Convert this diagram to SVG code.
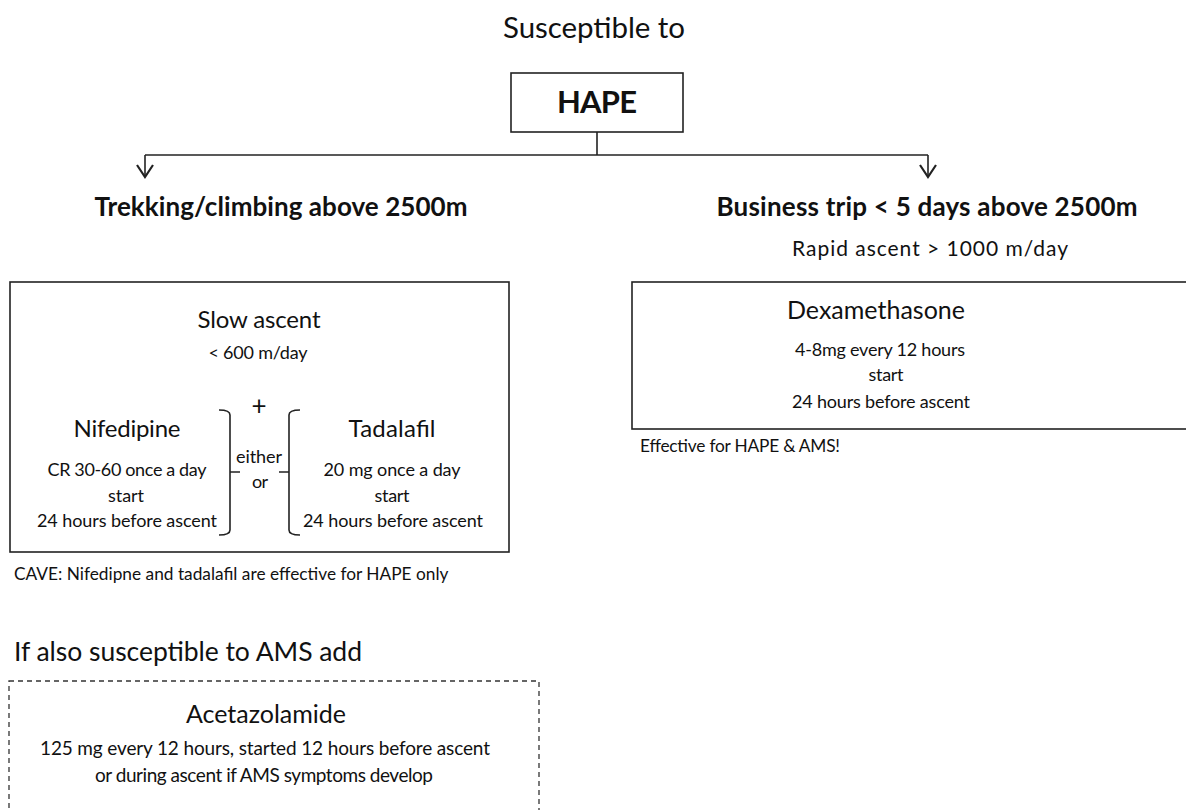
<svg xmlns="http://www.w3.org/2000/svg" width="1186" height="810" viewBox="0 0 1186 810">
<defs>
<style>
text{font-family:Lato,"Open Sans","Liberation Sans",sans-serif;fill:#111;text-anchor:middle}
.b{font-weight:bold}
.l{text-anchor:start}
.box{fill:#fff;stroke:#222;stroke-width:1.6}
.ln{fill:none;stroke:#222;stroke-width:1.6}
.ah{fill:none;stroke:#222;stroke-width:2.2;stroke-linejoin:miter}
</style>
</defs>
<rect width="1186" height="810" fill="#fff"/>
<text x="594" y="38" font-size="29.5" textLength="182">Susceptible to</text>
<g id="hape">
<rect class="box" x="511" y="73" width="172" height="59"/>
<text class="b" x="597" y="113" font-size="31" textLength="80">HAPE</text>
</g>
<g id="connectors">
<path class="ln" d="M597,132 V155"/>
<path class="ln" d="M145,155 H928"/>
<path class="ln" d="M145,155 V177"/>
<path class="ln" d="M928,155 V177"/>
<path class="ah" d="M137,165 L145,177 L153,165"/>
<path class="ah" d="M920,165 L928,177 L936,165"/>
</g>
<g id="trekking">
<text class="b" x="281" y="216" font-size="26" textLength="373">Trekking/climbing above 2500m</text>
</g>
<g id="business">
<text class="b" x="927" y="216" font-size="26" textLength="421">Business trip &lt; 5 days above 2500m</text>
<text x="930" y="256" font-size="21" textLength="276">Rapid ascent &gt; 1000 m/day</text>
</g>
<g id="slow-ascent">
<rect class="box" x="10" y="282" width="499" height="270"/>
<text x="259" y="328" font-size="24" textLength="123">Slow ascent</text>
<text x="258" y="359" font-size="18" textLength="99">&lt; 600 m/day</text>
<text x="259" y="415" font-size="26">+</text>
<text x="127" y="437" font-size="24" textLength="107">Nifedipine</text>
<text x="127" y="476" font-size="18" textLength="159">CR 30-60 once a day</text>
<text x="126" y="502" font-size="18" textLength="36">start</text>
<text x="127" y="527" font-size="18" textLength="180">24 hours before ascent</text>
<text x="259" y="463" font-size="18" textLength="46">either</text>
<text x="260" y="488" font-size="18" textLength="16">or</text>
<text x="392" y="437" font-size="24" textLength="87">Tadalafil</text>
<text x="392" y="476" font-size="18" textLength="137">20 mg once a day</text>
<text x="392" y="502" font-size="18" textLength="35">start</text>
<text x="393" y="527" font-size="18" textLength="180">24 hours before ascent</text>
<path class="ln" d="M219,410 Q230,410 230,415 V530 Q230,535 219,535 M230,472 H240"/>
<path class="ln" d="M300,410 Q289,410 289,415 V530 Q289,535 300,535 M289,472 H279"/>
</g>
<text class="l" x="14" y="580" font-size="17.3">CAVE: Nifedipne and tadalafil are effective for HAPE only</text>
<g id="dexamethasone">
<rect class="box" x="632" y="282" width="560" height="147"/>
<text x="876" y="319" font-size="25" textLength="178">Dexamethasone</text>
<text x="880" y="356" font-size="18" textLength="170">4-8mg every 12 hours</text>
<text x="886" y="381" font-size="18" textLength="35">start</text>
<text x="881" y="408" font-size="18" textLength="178">24 hours before ascent</text>
</g>
<text class="l" x="640" y="452" font-size="17.3" textLength="200">Effective for HAPE &amp; AMS!</text>
<text class="l" x="14" y="661" font-size="26.5" textLength="348">If also susceptible to AMS add</text>
<g id="acetazolamide">
<rect x="9" y="681" width="530" height="150" fill="none" stroke="#333" stroke-width="1.3" stroke-dasharray="5,4"/>
<text x="266" y="723" font-size="25" textLength="160">Acetazolamide</text>
<text x="265" y="755" font-size="19" textLength="450">125 mg every 12 hours, started 12 hours before ascent</text>
<text x="264" y="782" font-size="19" textLength="338">or during ascent if AMS symptoms develop</text>
</g>
</svg>
